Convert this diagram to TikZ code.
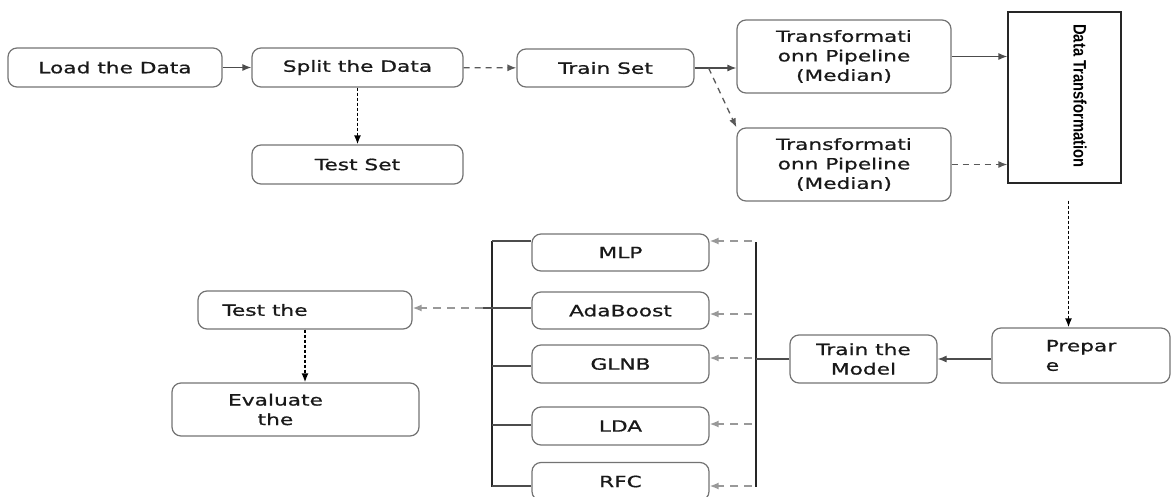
\documentclass[tikz,border=0pt]{standalone}
\usepackage{fontspec}
\setmainfont{DejaVu Sans}[FakeStretch=1.4, FakeBold=0.8]
\newfontfamily\dtfont{Liberation Sans}[FakeStretch=0.82]
\usetikzlibrary{arrows.meta}
\usetikzlibrary{positioning}

\tikzset{
  box/.style={draw=black!55, rounded corners=9pt, line width=1.2pt, inner sep=2pt,
    text=black!90, font=\fontsize{15.5}{19.5}\selectfont, align=center},
  txt/.style={text=black!90, font=\fontsize{15.5}{19.5}\selectfont, align=center},
  link/.style={draw=black!70, line width=1.2pt},
  dashlink/.style={draw=black!65, line width=1.3pt, dash pattern=on 6pt off 5pt},
  greylink/.style={draw=black!40, line width=1.6pt, dash pattern=on 8pt off 6pt},
  dotlink/.style={draw=black, line width=1.6pt, dash pattern=on 3pt off 2pt},
  bracket/.style={draw=black!85, line width=2pt},
}

\begin{document}
\begin{tikzpicture}[x=1pt, y=-1pt, >={Latex[length=9pt,width=7pt]}]
  \clip (0,0) rectangle (1171,496);

  % top row
  \node[box, minimum width=214pt, minimum height=39pt] (load) at (115,67.5) {Load the Data};
  \node[box, minimum width=211pt, minimum height=39pt] (split) at (357.5,67.5) {Split the Data};
  \node[box, minimum width=211pt, minimum height=39pt] (testset) at (357.5,164.5) {Test Set};
  \node[box, minimum width=177pt, minimum height=38pt] (train) at (605.5,68) {Train Set};
  \node[box, minimum width=214pt, minimum height=73pt] (pipe1) at (844,56.5) {Transformati\\onn Pipeline\\(Median)};
  \node[box, minimum width=214pt, minimum height=73pt] (pipe2) at (844,164.5) {Transformati\\onn Pipeline\\(Median)};
  \node[draw=black!85, line width=1.2pt, minimum width=113pt, minimum height=171pt] (dt) at (1064.5,97.5) {};
  \node[rotate=-90, font=\dtfont\bfseries\fontsize{18}{20}\selectfont] (dtlabel) at (1080,96) {Data Transformation};

  % bottom row
  \node[box, minimum width=178pt, minimum height=55pt, align=left] (prepare) at (1081,355.5) {Prepar\\e};
  \node[box, minimum width=147pt, minimum height=48pt] (trainm) at (863.5,359) {Train the\\Model};
  \node[box, minimum width=177pt, minimum height=37pt] (mlp) at (620.5,252.5) {MLP};
  \node[box, minimum width=177pt, minimum height=37pt] (ada) at (620.5,310.5) {AdaBoost};
  \node[box, minimum width=177pt, minimum height=38pt] (glnb) at (620.5,364) {GLNB};
  \node[box, minimum width=177pt, minimum height=38pt] (lda) at (620.5,426) {LDA};
  \node[box, minimum width=177pt, minimum height=38pt] (rfc) at (620.5,481.5) {RFC};
  \node[box, minimum width=214pt, minimum height=38pt,
    label={[txt, xshift=-40pt]center:Test the}] (testm) at (305,310) {};
  \node[box, minimum width=247pt, minimum height=53pt,
    label={[txt, xshift=-20pt]center:Evaluate\\the}] (eval) at (295.5,409.5) {};

  \coordinate (rtop) at (756,242);
  \coordinate (rbot) at (756,487);
  \coordinate (ltop) at (492,241);
  \coordinate (lbot) at (492,487);
  \coordinate (lout) at (483,308);
  \coordinate (fork) at ([xshift=14pt]train.east);

  % arrows, top
  \draw[link, ->] (load) -- (split);
  \draw[dashlink, ->] (split) -- (train);
  \draw[dotlink, ->] (split) -- (testset);
  \draw[link, ->] (train.east) -- (train.east -| pipe1.west);
  \draw[dashlink, ->] (fork) -- (pipe2.north west);
  \draw[link, ->] (pipe1) -- (pipe1 -| dt.west);
  \draw[dashlink, ->] (pipe2) -- (pipe2 -| dt.west);
  \draw[dotlink, ->, shorten <=17pt] ([xshift=4pt]dt.south) -- ([xshift=4pt]dt.south |- prepare.north);

  % arrows, bottom
  \draw[link, ->] (prepare.west |- trainm) -- (trainm);
  \draw[bracket] (rtop) -- (rbot);
  \draw[link] (trainm.west) -- (trainm.west -| rtop);
  \foreach \m/\y in {mlp/241, ada/314, glnb/358, lda/424, rfc/486}
    \draw[greylink, ->] ([xshift=-4pt]rtop |- 0,\y) -- (\m.east |- 0,\y);
  \draw[bracket] (ltop) -- (lbot);
  \foreach \m/\y in {mlp/241, ada/308, glnb/366, lda/425, rfc/486}
    \draw[link] (ltop |- 0,\y) -- (\m.west |- 0,\y);
  \draw[link] (ltop |- lout) -- (lout);
  \draw[greylink, ->] (lout) -- (lout -| testm.east);
  \draw[dotlink, ->] (testm.south) -- (testm.south |- eval.north);
\end{tikzpicture}
\end{document}
